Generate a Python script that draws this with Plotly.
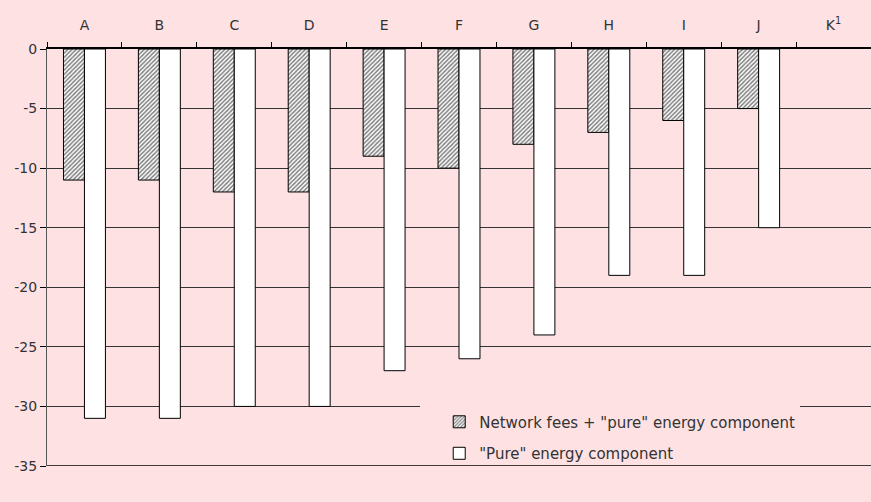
import plotly.graph_objects as go

categories = ["A", "B", "C", "D", "E", "F", "G", "H", "I", "J", "K<sup>1</sup>"]
network_plus_energy = [-11, -11, -12, -12, -9, -10, -8, -7, -6, -5, None]
pure_energy = [-31, -31, -30, -30, -27, -26, -24, -19, -19, -15, None]
y_tick_values = [0, -5, -10, -15, -20, -25, -30, -35]
y_tick_labels = ["0", "-5", "-10", "-15", "-20", "-25", "-30", "-35"]

BG = "#fee2e3"
FONT = "DejaVu Sans, sans-serif"

fig = go.Figure()
fig.add_trace(go.Bar(
    x=categories, y=network_plus_energy,
    name='Network fees + "pure" energy component', legendgroup="a",
    marker=dict(color="white", line=dict(color="black", width=1),
                pattern=dict(shape="/", fgcolor="black", bgcolor="white", size=3, solidity=0.5)),
))
fig.add_trace(go.Bar(
    x=categories, y=pure_energy,
    name='"Pure" energy component', legendgroup="b",
    marker=dict(color="white", line=dict(color="black", width=1)),
))

fig.update_layout(
    width=871, height=502,
    paper_bgcolor=BG, plot_bgcolor=BG,
    margin=dict(l=47, r=0, t=49, b=36),
    barmode="group", bargap=0.44, bargroupgap=0,
    font=dict(family=FONT, size=14, color="#333"),
    showlegend=True,
    legend=dict(x=0.476, y=0.145, xanchor="left", yanchor="top",
                bgcolor="rgba(0,0,0,0)", font=dict(size=15, family=FONT, color="#333"),
                itemwidth=30, tracegroupgap=9),
    xaxis=dict(side="top", type="category", tickson="boundaries",
               ticks="outside", ticklen=5, tickcolor="black",
               ticklabelstandoff=12,
               showline=True, linecolor="black", linewidth=1.5,
               showgrid=False, fixedrange=True),
    yaxis=dict(range=[-35, 0], tickvals=y_tick_values, ticktext=y_tick_labels,
               showgrid=True, gridcolor="#333", gridwidth=1,
               zeroline=False, showline=True, linecolor="#555", linewidth=1,
               ticks="outside", ticklen=6, tickcolor="black",
               fixedrange=True),
)
# legend backdrop hides the gridline behind the legend
fig.add_shape(type="line", xref="paper", yref="y", x0=0.4527, x1=0.9138, y0=-30, y1=-30,
              layer="above", line=dict(color=BG, width=3))
fig.add_shape(type="line", xref="paper", yref="y", x0=0, x1=1, y0=-35, y1=-35,
              line=dict(color="black", width=1.5))

fig.write_html("out.html", config={"displayModeBar": False},
               post_script="document.body.style.margin='0';")
